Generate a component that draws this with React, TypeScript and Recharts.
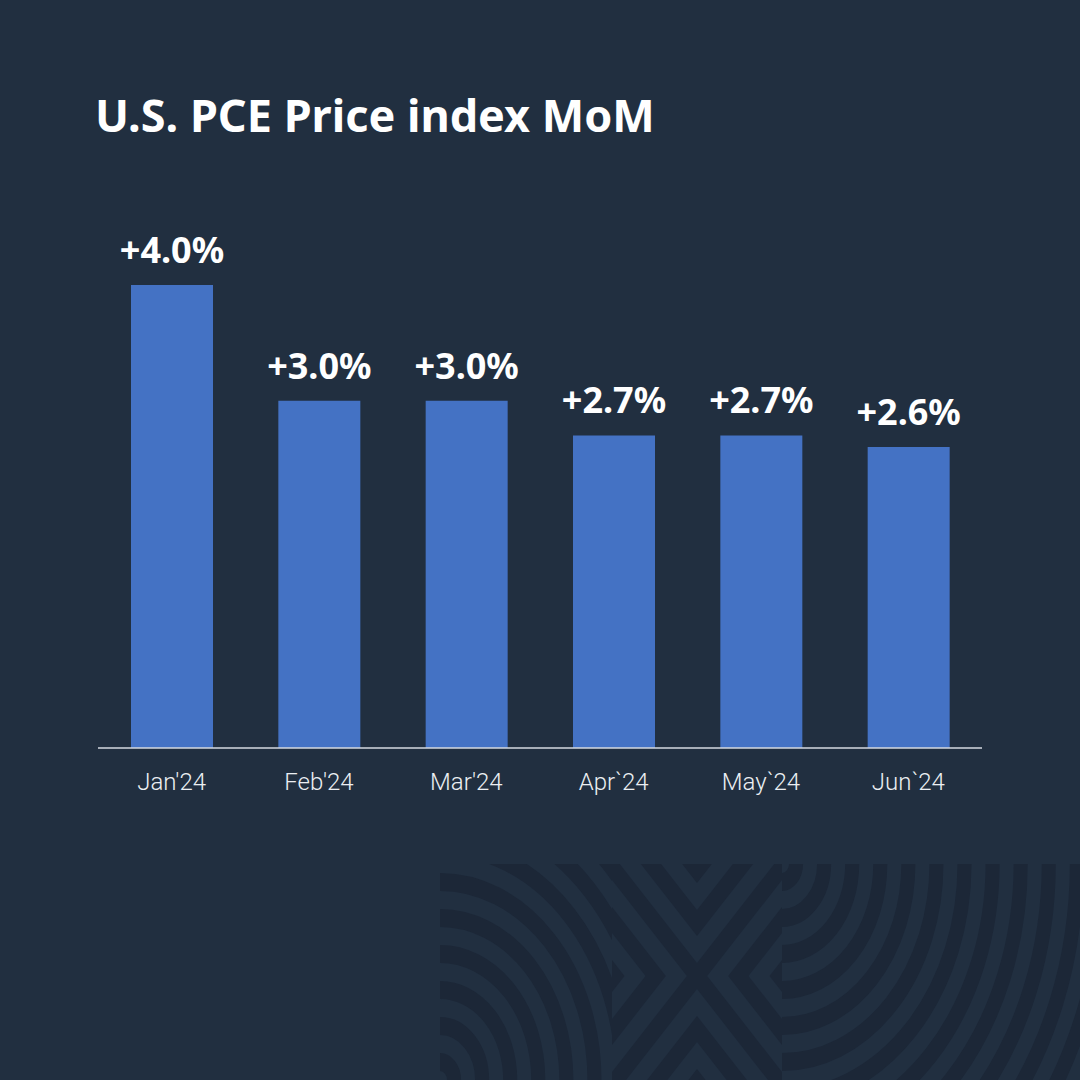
import { Bar, BarChart, LabelList, XAxis, YAxis } from "recharts";

const months = ["Jan'24", "Feb'24", "Mar'24", "Apr`24", "May`24", "Jun`24"];
const pceMoM = [4.0, 3.0, 3.0, 2.7, 2.7, 2.6];

const data = months.map((month, i) => ({ month, value: pceMoM[i] }));

const BG = "#212f40";
const DARK = "#1c2737";
const BAR = "#4472c4";

// rings / chevron offsets for the corner decoration
const ringRadii = Array.from({ length: 14 }, (_, k) => 18 + 36 * k);
const chevronOffsets = [-212, -159, -106, -53, 0, 53, 106, 159, 212];

function Decoration() {
  const quads = [
    [1, 1],
    [1, -1],
    [-1, 1],
    [-1, -1]
  ];
  return (
    <svg width={1080} height={1080} style={{ position: "absolute", left: 0, top: 0 }}>
      <defs>
        <clipPath id="leftBlock">
          <rect x={440} y={864} width={172} height={216} />
        </clipPath>
        <clipPath id="midBlock">
          <rect x={612} y={864} width={170} height={216} />
        </clipPath>
        <clipPath id="rightBlock">
          <rect x={782} y={864} width={298} height={216} />
        </clipPath>
      </defs>
      <g clipPath="url(#leftBlock)">
        <g transform="translate(440,1080) scale(0.78,1)">
          {ringRadii.map((r) => (
            <circle key={r} r={r} fill="none" stroke={DARK} strokeWidth={18} />
          ))}
        </g>
      </g>
      <g clipPath="url(#rightBlock)">
        <g transform="translate(782,864) scale(0.78,1)">
          {ringRadii.map((r) => (
            <circle key={r} r={r} fill="none" stroke={DARK} strokeWidth={18} />
          ))}
        </g>
      </g>
      <g clipPath="url(#midBlock)">
        <g transform="translate(697,976) scale(0.78,1)">
          {quads.map(([sx, sy], qi) => (
            <g key={qi} transform={`scale(${sx},${sy})`}>
              <clipPath id={`q${qi}`}>
                <rect x={0} y={0} width={400} height={400} />
              </clipPath>
              <g clipPath={`url(#q${qi})`}>
                {chevronOffsets.map((c) => (
                  <line
                    key={c}
                    x1={c - 400}
                    y1={-400}
                    x2={c + 400}
                    y2={400}
                    stroke={DARK}
                    strokeWidth={18.4}
                  />
                ))}
              </g>
            </g>
          ))}
        </g>
      </g>
    </svg>
  );
}

function MonthTick({ x, y, payload }: any) {
  return (
    <text
      x={x}
      y={y + 42}
      textAnchor="middle"
      fill="#eceff3"
      fontSize={24}
      fontWeight={300}
      fontFamily="Roboto, 'Noto Sans', sans-serif"
    >
      {payload.value}
    </text>
  );
}

function ValueLabel({ x, y, width, value }: any) {
  return (
    <text
      x={Number(x) + Number(width) / 2}
      y={Number(y) - 22}
      textAnchor="middle"
      fill="#ffffff"
      fontSize={36}
      fontWeight={700}
      fontFamily="'Noto Sans', 'Open Sans', sans-serif"
    >
      {`+${Number(value).toFixed(1)}%`}
    </text>
  );
}

export default function App() {
  return (
    <div
      style={{
        position: "absolute",
        left: 0,
        top: 0,
        width: 1080,
        height: 1080,
        background: BG,
        overflow: "hidden"
      }}
    >
      <Decoration />
      <div
        style={{
          position: "absolute",
          left: 95,
          top: 87,
          color: "#ffffff",
          fontFamily: "'Noto Sans', 'Open Sans', sans-serif",
          fontWeight: 700,
          fontSize: 45,
          lineHeight: "56px",
          whiteSpace: "nowrap"
        }}
      >
        U.S. PCE Price index MoM
      </div>
      <div style={{ position: "absolute", left: 0, top: 0 }}>
        <BarChart
          width={1080}
          height={1080}
          data={data}
          margin={{ top: 285, right: 98, left: 98, bottom: 302 }}
        >
          <XAxis
            dataKey="month"
            height={30}
            tickLine={false}
            tickSize={0}
            tickMargin={0}
            axisLine={{ stroke: "#d5dae1", strokeWidth: 1.5 }}
            tick={<MonthTick />}
            interval={0}
          />
          <YAxis hide domain={[0, 4]} />
          <Bar dataKey="value" fill={BAR} barSize={82} isAnimationActive={false}>
            <LabelList dataKey="value" content={<ValueLabel />} />
          </Bar>
        </BarChart>
      </div>
    </div>
  );
}
